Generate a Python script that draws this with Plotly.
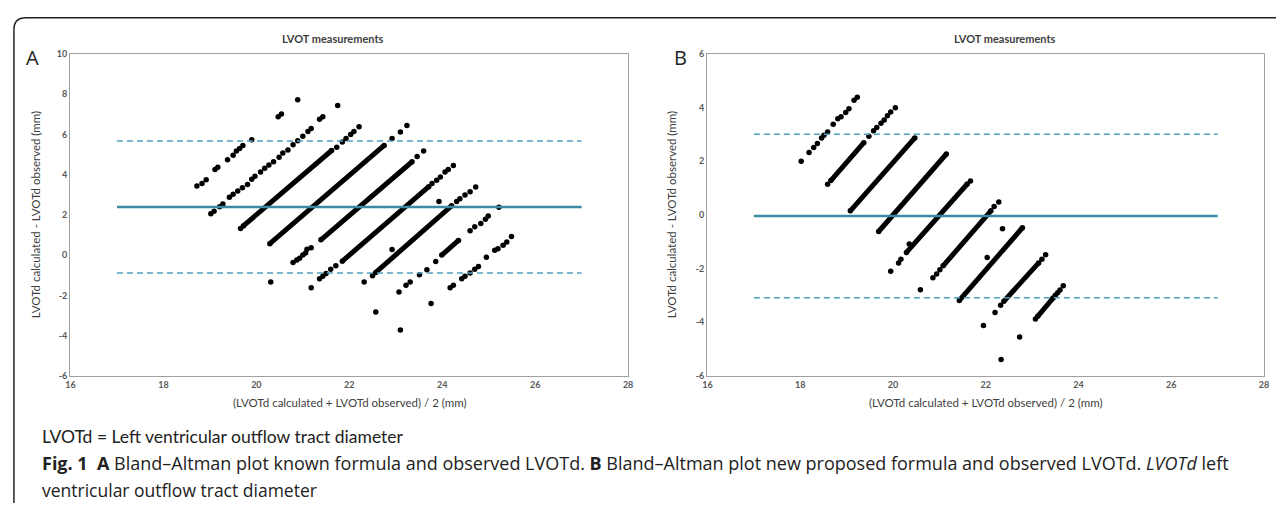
import plotly.graph_objects as go

W, H = 1281, 508

# ---------------- Panel A: known formula vs observed ----------------
# individual points (mean of methods, difference)
a_dot_x = [18.72, 18.83, 18.92, 19.11, 19.17, 19.38, 19.50, 19.57, 19.64, 19.71, 19.90, 20.47, 20.54, 20.89,
           19.02, 19.09, 19.21, 19.28, 19.42, 19.50, 19.60, 19.70, 19.81, 19.90, 19.97, 20.09, 20.18, 20.27,
           20.37, 20.49, 20.57, 20.68, 20.79, 20.89, 21.00, 21.11, 21.18, 21.36, 21.43, 21.75,
           19.66, 21.73, 21.85, 21.93, 22.03, 22.10, 22.21,
           22.92, 23.10, 23.24,
           20.79, 20.87, 20.93, 21.00, 21.06, 21.09, 21.18, 23.46, 23.60,
           21.18, 21.36, 21.43, 21.50, 21.60, 21.71, 23.78, 23.88, 23.96, 24.06, 24.13, 24.24,
           22.32, 22.50, 24.31, 24.38, 24.49, 24.60, 24.72,
           23.07, 23.22, 23.31, 23.51, 23.67, 23.86, 24.60, 24.70, 24.83, 24.93, 24.99,
           24.17, 24.24, 24.42, 24.49, 24.60, 24.70, 24.78, 24.95, 25.13, 25.20, 25.31, 25.39, 25.49,
           20.31, 22.57, 23.76, 23.10, 22.92, 23.93, 25.22]
a_dot_y = [3.43, 3.56, 3.75, 4.26, 4.37, 4.74, 4.96, 5.18, 5.30, 5.45, 5.74, 6.88, 7.01, 7.72,
           2.05, 2.18, 2.41, 2.54, 2.88, 3.03, 3.19, 3.35, 3.51, 3.77, 3.92, 4.13, 4.32, 4.48,
           4.64, 4.87, 5.07, 5.23, 5.49, 5.68, 5.91, 6.15, 6.29, 6.75, 6.88, 7.44,
           1.32, 5.36, 5.62, 5.80, 6.00, 6.14, 6.38,
           5.80, 6.12, 6.44,
           -0.37, -0.24, -0.16, 0.00, 0.11, 0.29, 0.36, 4.90, 5.18,
           -1.62, -1.18, -1.05, -0.92, -0.70, -0.53, 3.56, 3.72, 3.88, 4.13, 4.26, 4.45,
           -1.34, -1.02, 2.67, 2.80, 2.99, 3.15, 3.38,
           -1.83, -1.50, -1.34, -0.97, -0.73, -0.32, 1.21, 1.41, 1.57, 1.78, 1.94,
           -1.62, -1.50, -1.17, -1.05, -0.89, -0.70, -0.57, -0.11, 0.24, 0.32, 0.49, 0.65, 0.92,
           -1.34, -2.83, -2.40, -3.72, 0.28, 2.67, 2.38]
# densely packed runs of points (start and end of each run)
a_run_x0 = [19.72, 20.29, 21.39, 21.85, 22.57, 23.99]
a_run_y0 = [1.45, 0.57, 0.76, -0.30, -0.86, 0.00]
a_run_x1 = [21.62, 22.75, 23.35, 23.71, 24.20, 24.35]
a_run_y1 = [5.20, 5.45, 4.64, 3.40, 2.45, 0.73]
a_mean, a_upper, a_lower = 2.39, 5.67, -0.89

# ---------------- Panel B: new formula vs observed ----------------
b_dot_x = [18.02, 18.19, 18.29, 18.37, 18.46, 18.51, 18.59, 18.71, 18.81, 18.88, 18.98, 19.05, 19.16, 19.23,
           18.59, 19.48, 19.58, 19.65, 19.74, 19.81, 19.88, 19.95, 20.05,
           19.95, 20.12, 20.17, 20.35, 21.67,
           20.86, 20.94, 21.01, 22.18, 22.28,
           22.20, 22.32, 23.21, 23.29,
           23.07, 23.50, 23.55, 23.60, 23.67,
           20.59, 21.95, 22.73, 22.33, 22.36, 22.03]
b_dot_y = [2.00, 2.33, 2.51, 2.66, 2.87, 2.97, 3.09, 3.38, 3.58, 3.66, 3.82, 3.96, 4.27, 4.39,
           1.14, 2.93, 3.14, 3.26, 3.42, 3.54, 3.70, 3.84, 3.99,
           -2.10, -1.79, -1.65, -1.09, 1.26,
           -2.34, -2.20, -2.05, 0.31, 0.48,
           -3.64, -3.37, -1.65, -1.49,
           -3.88, -3.00, -2.90, -2.80, -2.64,
           -2.79, -4.12, -4.55, -5.39, -0.52, -1.59]
b_run_x0 = [18.66, 19.08, 19.69, 20.29, 21.08, 21.43, 22.39, 23.12]
b_run_y0 = [1.28, 0.15, -0.62, -1.40, -1.90, -3.19, -3.22, -3.78]
b_run_x1 = [19.37, 20.47, 21.15, 21.60, 22.11, 22.79, 23.14, 23.45]
b_run_y1 = [2.69, 2.87, 2.27, 1.15, 0.15, -0.48, -1.79, -3.10]
b_mean, b_upper, b_lower = -0.04, 3.01, -3.09

line_x = [17, 27]
x_ticks = [16, 18, 20, 22, 24, 26, 28]
a_y_ticks = [-6, -4, -2, 0, 2, 4, 6, 8, 10]
b_y_ticks = [-6, -4, -2, 0, 2, 4, 6]

TEAL = "#3a8aa6"
TEAL_D = "#52a0ba"
CHART_FONT = "Lato"


def fx(px):
    return px / W


def fy(py):
    return 1 - py / H


fig = go.Figure()


def add_panel(dx, dy, rx0, ry0, rx1, ry1, m, up, lo, xa, ya):
    rx, ry = [], []
    for a, b, c, d in zip(rx0, ry0, rx1, ry1):
        rx += [a, c, None]
        ry += [b, d, None]
    fig.add_trace(go.Scatter(x=rx, y=ry, mode="lines", xaxis=xa, yaxis=ya,
                             line=dict(color="black", width=5), hoverinfo="skip", showlegend=False))
    fig.add_trace(go.Scatter(x=list(dx) + list(rx0) + list(rx1), y=list(dy) + list(ry0) + list(ry1),
                             mode="markers", xaxis=xa, yaxis=ya,
                             marker=dict(color="black", size=5.5, line=dict(width=0)), showlegend=False))
    fig.add_trace(go.Scatter(x=line_x, y=[m, m], mode="lines", xaxis=xa, yaxis=ya,
                             line=dict(color=TEAL, width=2.6), showlegend=False))
    for v in (up, lo):
        fig.add_trace(go.Scatter(x=line_x, y=[v, v], mode="lines", xaxis=xa, yaxis=ya,
                                 line=dict(color=TEAL_D, width=1.5, dash="6px,4px"), showlegend=False))


add_panel(a_dot_x, a_dot_y, a_run_x0, a_run_y0, a_run_x1, a_run_y1, a_mean, a_upper, a_lower, "x", "y")
add_panel(b_dot_x, b_dot_y, b_run_x0, b_run_y0, b_run_x1, b_run_y1, b_mean, b_upper, b_lower, "x2", "y2")

tickfont = dict(family=CHART_FONT, size=9, color="#595959", weight="bold")
ax_common = dict(showline=True, linecolor="#a0a0a0", linewidth=1.4, mirror=True, showgrid=False,
                 zeroline=False, ticks="", tickfont=tickfont, ticklabeloverflow="allow")

fig.update_layout(
    width=W, height=H, margin=dict(l=0, r=0, t=0, b=0),
    paper_bgcolor="white", plot_bgcolor="white", showlegend=False,
    xaxis=dict(domain=[fx(66), fx(628)], anchor="y", range=[16, 28], tickvals=x_ticks,
               ticktext=[str(t) for t in x_ticks], **ax_common),
    yaxis=dict(domain=[fy(378), fy(49)], anchor="x", range=[-6, 10], tickvals=a_y_ticks,
               ticktext=[str(t) for t in a_y_ticks], **ax_common),
    xaxis2=dict(domain=[fx(708), fx(1269)], anchor="y2", range=[16, 28], tickvals=x_ticks,
                ticktext=[str(t) for t in x_ticks], **ax_common),
    yaxis2=dict(domain=[fy(378), fy(49)], anchor="x2", range=[-6, 6], tickvals=b_y_ticks,
                ticktext=[str(t) for t in b_y_ticks], **ax_common),
)

ann = []


def txt(text, px, py, size, color="#404040", xanchor="center", angle=0, family=CHART_FONT, bold=False):
    ann.append(dict(text=text, x=fx(px), y=fy(py), xref="paper", yref="paper", showarrow=False,
                    xanchor=xanchor, yanchor="middle", textangle=angle,
                    font=dict(family=family, size=size, color=color, weight="bold" if bold else "normal")))


for cx, pcx, lab, lx in ((331, 348, "A", 28), (1008, 989, "B", 681)):
    txt("LVOT measurements", cx, 33, 11, "#404040", bold=True)
    txt(lab, lx, 53, 20, "#222222", family="Open Sans")
    txt("(LVOTd calculated + LVOTd observed) / 2 (mm)", pcx, 405, 11.5, "#404040")
txt("LVOTd calculated - LVOTd observed (mm)", 31, 213, 11.5, "#404040", angle=-90)
txt("LVOTd calculated - LVOTd observed (mm)", 672, 213, 11.5, "#404040", angle=-90)

txt("LVOTd = Left ventricular outflow tract diameter", 35, 440, 17.5, "#222222", xanchor="left")
txt("<b>Fig. 1</b>  <b>A</b> Bland–Altman plot known formula and observed LVOTd. <b>B</b> Bland–Altman plot new "
    "proposed formula and observed LVOTd. <i>LVOTd</i> left", 35, 467, 18, "#222222", xanchor="left",
    family="Open Sans")
txt("ventricular outflow tract diameter", 35, 495, 17.5, "#222222", xanchor="left", family="Open Sans")

fig.update_layout(annotations=ann)

# figure frame (rounded top-left corner, open bottom)
fig.add_shape(type="path", xref="paper", yref="paper",
              path=f"M {fx(9)},{fy(508)} L {fx(9)},{fy(24)} Q {fx(9)},{fy(12)} {fx(21)},{fy(12)} L {fx(1281)},{fy(12)}",
              line=dict(color="#222222", width=1.5))

fig.write_html("out.html", config={"displayModeBar": False, "staticPlot": True},
               post_script="document.body.style.margin='0';document.body.style.overflow='hidden';")
